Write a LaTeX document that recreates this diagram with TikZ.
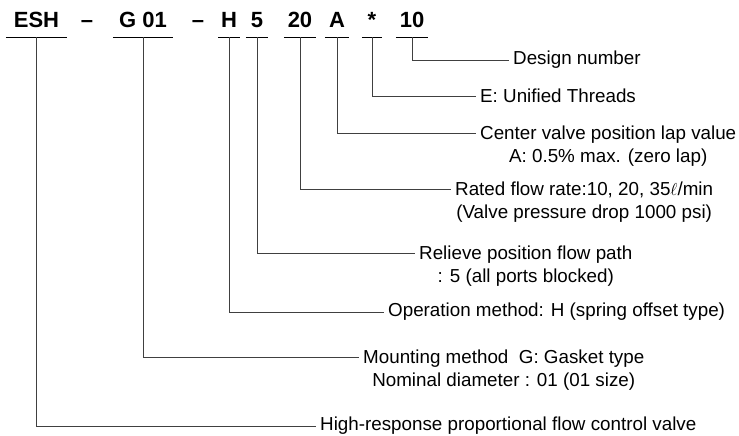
\documentclass[tikz,border=0pt]{standalone}
\usepackage{fontspec}
\setmainfont{Liberation Sans}

\begin{document}
\begin{tikzpicture}[x=1pt, y=-1pt,
    code/.style={font=\fontsize{22}{26}\selectfont\bfseries, inner sep=0pt, text depth=9pt, anchor=base, minimum width=#1},
    desc/.style={font=\fontsize{18.8}{23}\selectfont, inner sep=4pt, anchor=west, align=center},
    uline/.style={line width=1.1pt, black},
    lead/.style={line width=0.8pt, black!75}]
\useasboundingbox (0,0) rectangle (739,436);

% model code
\node[code=61pt] (esh) at (36.5,28) {ESH};
\node[code=0pt] (dasha) at (87,28) {--};
\node[code=60pt] (gsize) at (143,28) {G 01};
\node[code=0pt] (dashb) at (198,28) {--};
\node[code=21pt] (hop) at (229,28) {H};
\node[code=22pt] (five) at (257,28) {5};
\node[code=32pt] (flow) at (300,28) {20};
\node[code=24pt] (lap) at (337,28) {A};
\node[code=20pt] (thread) at (372,28) {*};
\node[code=32pt] (design) at (412,28) {10};
\foreach \n in {esh,gsize,hop,five,flow,lap,thread,design}
    \draw[uline] (\n.south west) -- (\n.south east);

% descriptions
\node[desc] (dn) at (509,60) {Design number};
\node[desc] (ut) at (476,96) {E: Unified Threads};
\node[desc, anchor=north west] (cv) at (476,122) {Center valve position lap value\\A: 0.5\% max. (zero lap)};
\node[desc, anchor=north west] (rf) at (451,178) {Rated flow rate:10, 20, 35$\ell$/min\\(Valve pressure drop 1000 psi)};
\node[desc, anchor=north west] (rp) at (415,242) {Relieve position flow path\\: 5 (all ports blocked)};
\node[desc] (om) at (384,312) {Operation method: H (spring offset type)};
\node[desc, anchor=north west] (mm) at (359,346) {Mounting method\ \ G: Gasket type\\Nominal diameter : 01 (01 size)};
\node[desc] (hr) at (316,426) {High-response proportional flow control valve};

% leaders
\draw[lead] (design.south) |- (dn.west);
\draw[lead] (thread.south) |- (ut.west);
\draw[lead] (lap.south) |- ([yshift=-11pt]cv.north west);
\draw[lead] (flow.south) |- ([yshift=-11pt]rf.north west);
\draw[lead] (five.south) |- ([yshift=-11pt]rp.north west);
\draw[lead] (hop.south) |- (om.west);
\draw[lead] (gsize.south) |- ([yshift=-11pt]mm.north west);
\draw[lead] (esh.south) |- (hr.west);
\end{tikzpicture}
\end{document}
